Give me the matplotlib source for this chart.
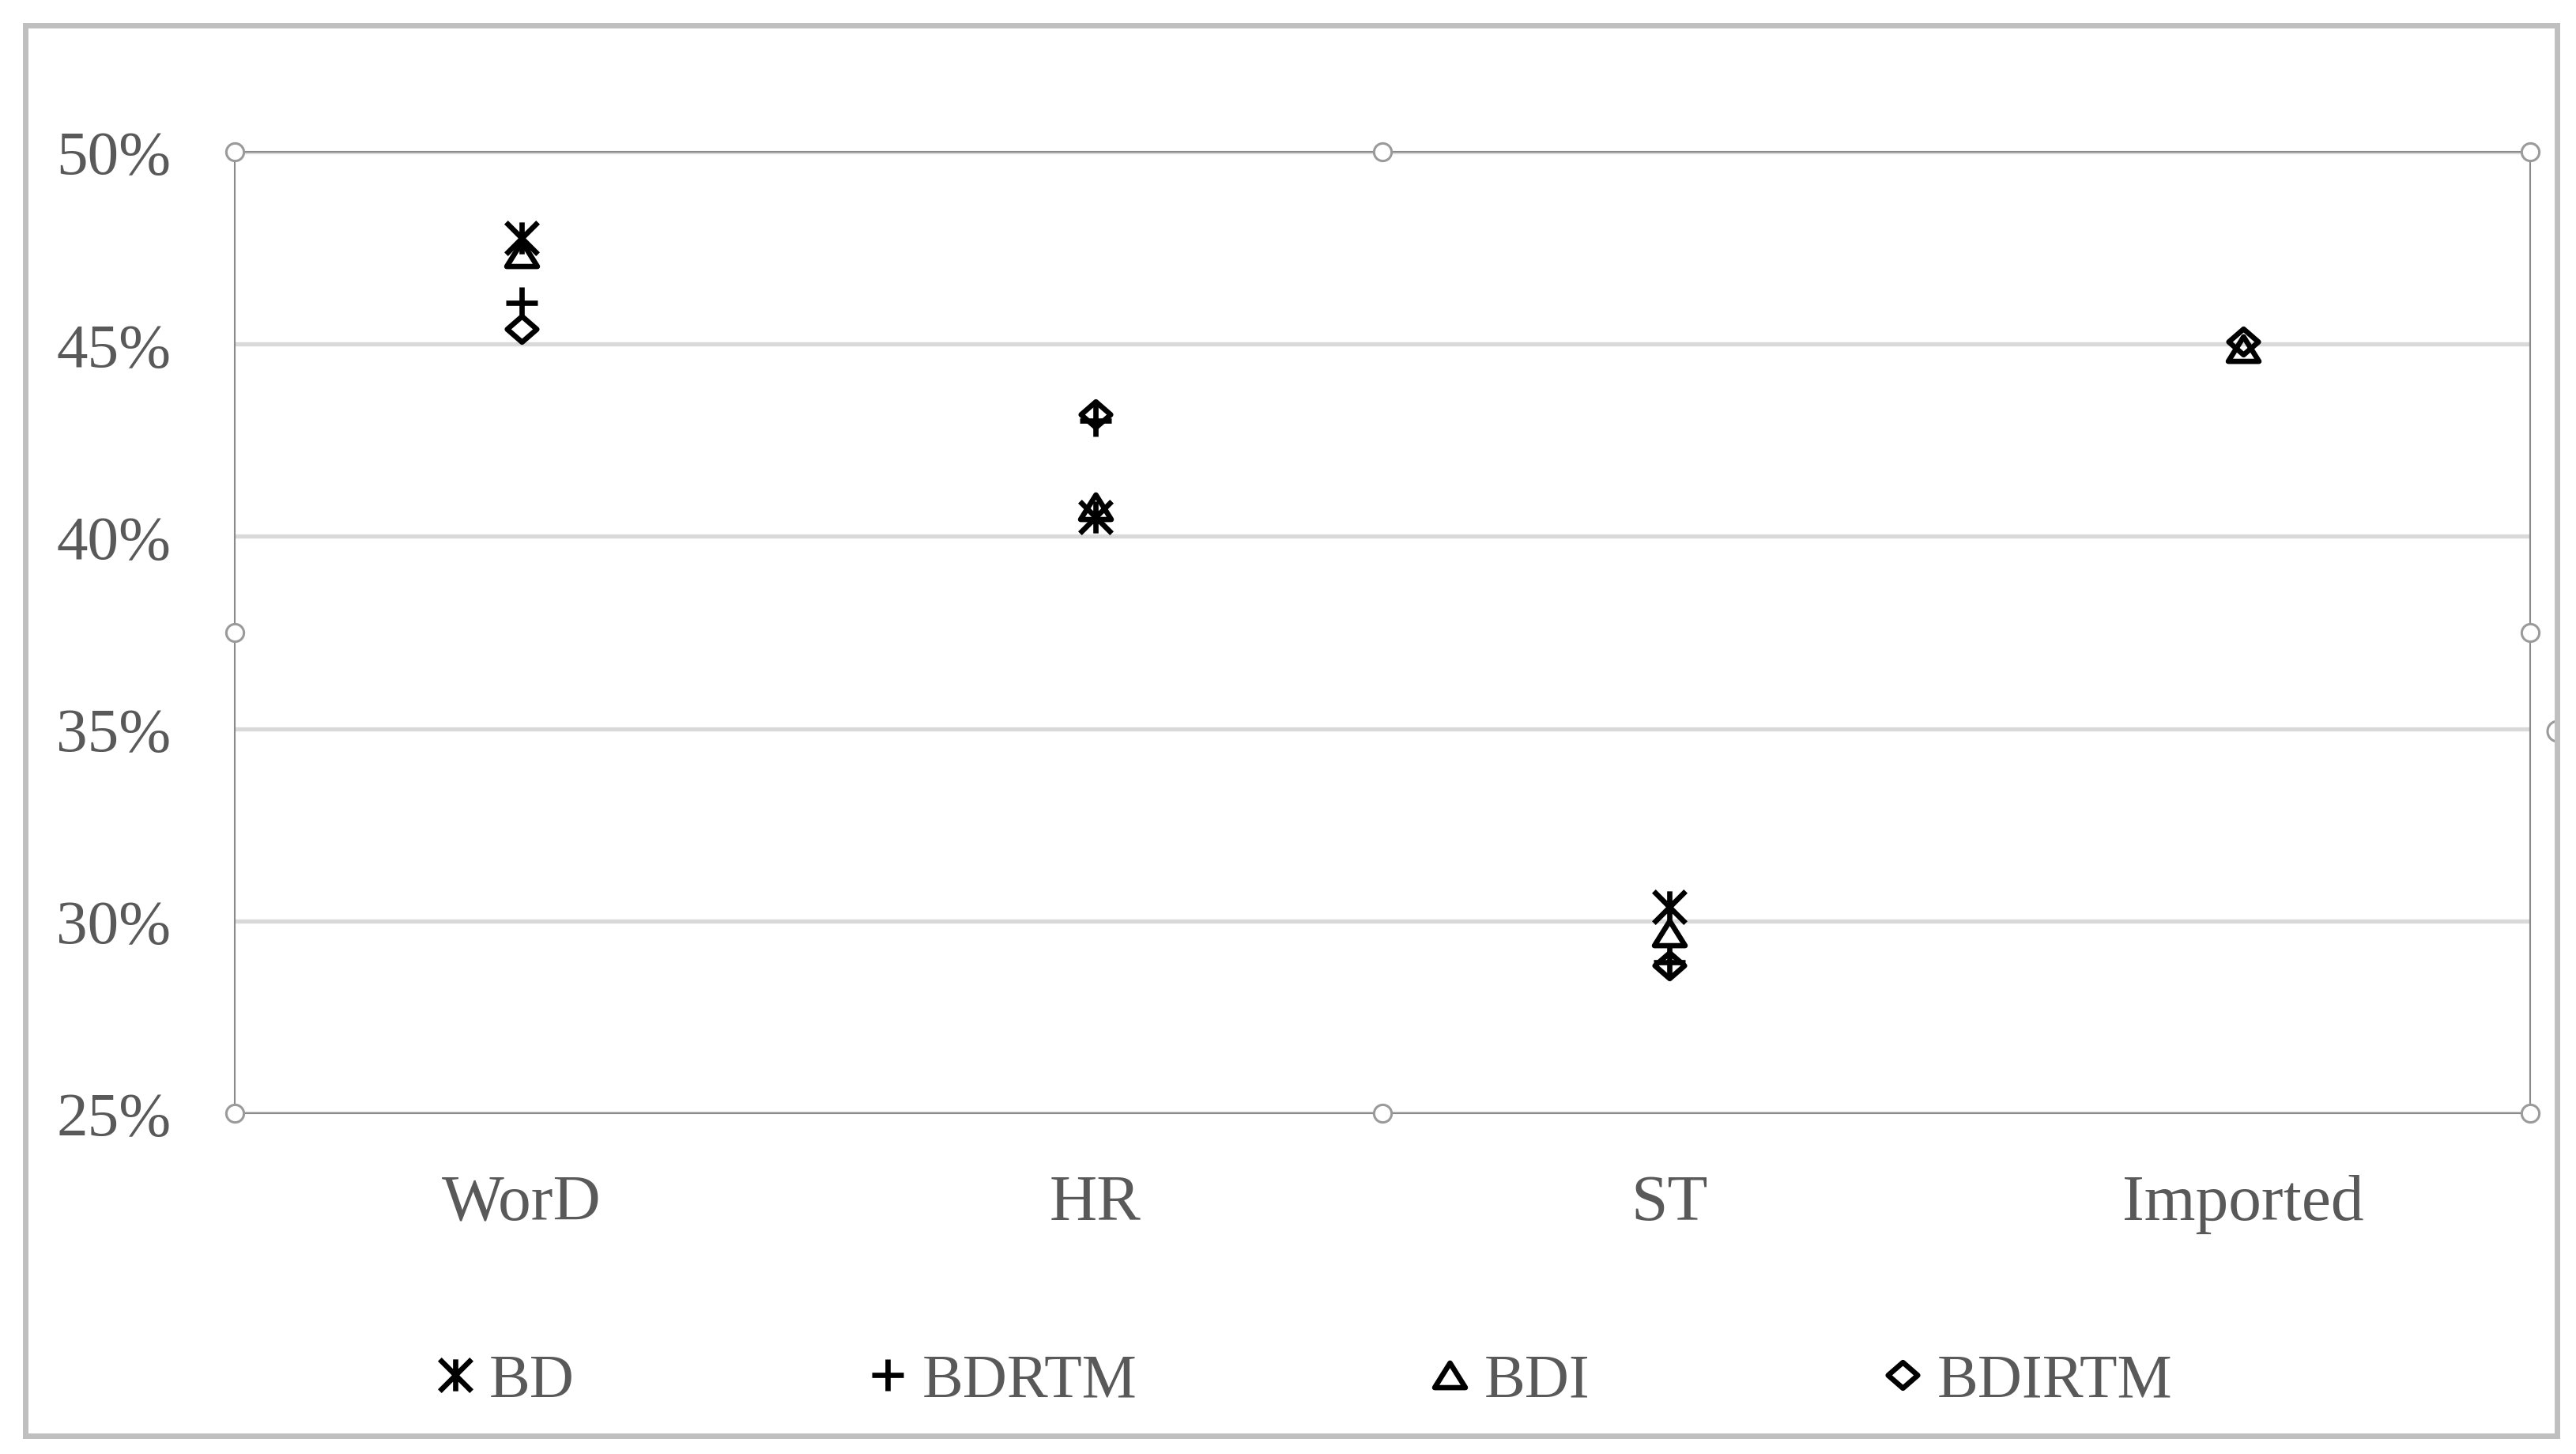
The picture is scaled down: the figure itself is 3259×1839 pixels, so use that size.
import numpy as np
import matplotlib
matplotlib.use('Agg')
import matplotlib.pyplot as plt
from matplotlib.path import Path
from matplotlib.markers import MarkerStyle
from matplotlib.patches import Rectangle, Arc
from matplotlib.ticker import PercentFormatter

plt.rcParams['font.family'] = ['Liberation Serif', 'DejaVu Serif']

# values (percent)
categories = ['WorD', 'HR', 'ST', 'Imported']
bd = [47.76, 40.50, 30.37, np.nan]
bdrtm = [46.07, 43.01, 28.93, np.nan]
bdi = [47.35, 40.77, 29.69, 44.88]
bdirtm = [45.39, 43.17, 28.84, 45.07]
series_names = ['BD', 'BDRTM', 'BDI', 'BDIRTM']
y_ticks = [25, 30, 35, 40, 45, 50]

# excel-like marker shapes
M, L = Path.MOVETO, Path.LINETO
star = MarkerStyle(Path([(0, -1), (0, 1), (-1, -1), (1, 1), (-1, 1), (1, -1)],
                        [M, L, M, L, M, L]))
plus = MarkerStyle(Path([(-1, 0), (1, 0), (0, -1), (0, 1)], [M, L, M, L]))
tri = MarkerStyle(Path([(-1, -0.8), (1, -0.8), (0, 0.8), (0, 0)], closed=True),
                  joinstyle='miter')
diamond = MarkerStyle(Path([(0, 0.87), (1, 0), (0, -0.87), (-1, 0), (0, 0)], closed=True),
                      joinstyle='miter')

series = [bd, bdrtm, bdi, bdirtm]
markers = [star, plus, tri, diamond]
sizes = [29, 29, 28, 27]

fig = plt.figure(figsize=(32.59, 18.40), dpi=100)
ax = fig.add_axes([0.0911, 0.2342, 0.8911, 0.6609])

x = np.arange(len(categories))
for vals, name, mk, ms in zip(series, series_names, markers, sizes):
    ax.plot(x, vals, linestyle='none', marker=mk, ms=ms, mec='black',
            mfc='none', mew=4.8, label=name, clip_on=False, zorder=5)

ax.set_xlim(-0.5, len(categories) - 0.5)
ax.set_ylim(y_ticks[0], y_ticks[-1])
ax.set_yticks(y_ticks)
ax.yaxis.set_major_formatter(PercentFormatter(decimals=0))
ax.set_xticks(x, categories)
ax.tick_params(axis='both', length=0, labelcolor='#595959')
ax.tick_params(axis='x', pad=55, labelsize=60)
ax.tick_params(axis='y', pad=58, labelsize=57)
for lbl in ax.get_xticklabels():
    lbl.set_x(lbl.get_position()[0])

ax.grid(axis='y', color='#d9d9d9', lw=3.8)
ax.set_axisbelow(True)
for sp in ax.spines.values():
    sp.set_color('#8a8a8a')
    sp.set_linewidth(1.5)

# selection handles of the plot area
for hx, hy in [(0, 0), (0.5, 0), (1, 0), (0, 0.5), (1, 0.5), (0, 1), (0.5, 1), (1, 1)]:
    ax.plot(hx, hy, 'o', transform=ax.transAxes, ms=16, mfc='white',
            mec='#9a9a9a', mew=2.2, clip_on=False, zorder=6)

# legend
handles, labels = ax.get_legend_handles_labels()
fig.legend(handles, labels, loc='center', bbox_to_anchor=(0.507, 0.050),
           ncol=4, frameon=False, fontsize=56, labelcolor='#595959',
           handlelength=0.5, handletextpad=0.31, columnspacing=4.84,
           borderpad=0, borderaxespad=0)

# chart area border + clipped handle on the right
fig.add_artist(Arc((3236 / 3259, (1840 - 926) / 1840), 26 / 3259, 26 / 1840,
                   theta1=95, theta2=265, transform=fig.transFigure,
                   color='#9a9a9a', lw=2.2, zorder=9))
fig.add_artist(Rectangle((32 / 3259, 23 / 1840), 3203 / 3259, 1784 / 1840,
                         transform=fig.transFigure, fill=False,
                         ec='#bfbfbf', lw=5, zorder=10))

fig.savefig('out.png', dpi=100)
